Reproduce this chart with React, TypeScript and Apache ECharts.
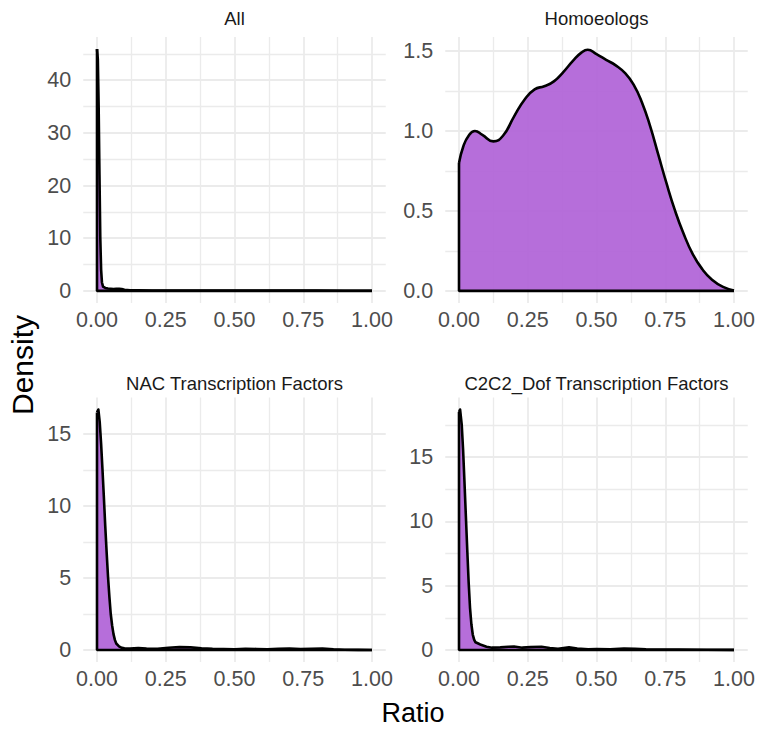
import React, { useEffect, useRef } from "react";
import * as echarts from "echarts";

const panelTitles = ["All", "Homoeologs", "NAC Transcription Factors", "C2C2_Dof Transcription Factors"];
const xTicks = [0, 0.25, 0.5, 0.75, 1];
const xMinor = [0.125, 0.375, 0.625, 0.875];

// Panel 1: All
const allX = [0, 0.003, 0.006, 0.009, 0.012, 0.015, 0.018, 0.022, 0.03, 0.04, 0.05, 0.06, 0.07, 0.08, 0.09, 0.1, 0.12, 0.15, 0.2, 0.3, 0.4, 0.5, 0.6, 0.7, 0.8, 0.9, 1.0];
const allY = [45.9, 44, 35, 22, 10, 4, 1.6, 0.8, 0.55, 0.45, 0.4, 0.35, 0.38, 0.42, 0.35, 0.22, 0.12, 0.09, 0.07, 0.06, 0.08, 0.06, 0.07, 0.05, 0.04, 0.03, 0.02];
const allYTicks = [0, 10, 20, 30, 40];
const allYMinor = [5, 15, 25, 35, 45];
const allYRange = [-2.3, 48.2];

// Panel 2: Homoeologs
const homX = [0, 0.015, 0.035, 0.058, 0.085, 0.125, 0.16, 0.2, 0.24, 0.275, 0.31, 0.345, 0.38, 0.415, 0.445, 0.468, 0.5, 0.535, 0.57, 0.605, 0.635, 0.665, 0.695, 0.725, 0.755, 0.785, 0.815, 0.85, 0.885, 0.92, 0.96, 1.0];
const homY = [0.8, 0.9, 0.97, 1.0, 0.975, 0.935, 0.97, 1.09, 1.2, 1.26, 1.28, 1.31, 1.37, 1.44, 1.49, 1.508, 1.48, 1.445, 1.41, 1.36, 1.29, 1.18, 1.03, 0.85, 0.67, 0.505, 0.365, 0.23, 0.135, 0.07, 0.025, 0.003];
const homYTicks = [0, 0.5, 1.0, 1.5];
const homYMinor = [0.25, 0.75, 1.25];
const homYRange = [-0.0756, 1.5875];

// Panel 3: NAC Transcription Factors
const nacX = [0, 0.005, 0.01, 0.015, 0.02, 0.025, 0.03, 0.035, 0.04, 0.045, 0.05, 0.055, 0.06, 0.065, 0.07, 0.08, 0.09, 0.1, 0.12, 0.15, 0.18, 0.22, 0.26, 0.3, 0.34, 0.38, 0.42, 0.46, 0.5, 0.54, 0.58, 0.62, 0.66, 0.7, 0.74, 0.78, 0.82, 0.86, 0.9, 0.95, 1.0];
const nacY = [16.5, 16.7, 15.8, 14.3, 12.5, 10.6, 8.6, 6.8, 5.1, 3.7, 2.5, 1.7, 1.1, 0.7, 0.45, 0.25, 0.15, 0.12, 0.1, 0.14, 0.1, 0.09, 0.15, 0.2, 0.18, 0.12, 0.08, 0.06, 0.05, 0.09, 0.07, 0.05, 0.08, 0.1, 0.07, 0.08, 0.1, 0.05, 0.02, 0.01, 0.0];
const nacYTicks = [0, 5, 10, 15];
const nacYMinor = [2.5, 7.5, 12.5];
const nacYRange = [-0.835, 17.535];

// Panel 4: C2C2_Dof Transcription Factors
const dofX = [0, 0.004, 0.01, 0.015, 0.02, 0.025, 0.03, 0.035, 0.04, 0.045, 0.05, 0.055, 0.06, 0.07, 0.08, 0.1, 0.12, 0.15, 0.18, 0.2, 0.23, 0.26, 0.3, 0.33, 0.36, 0.4, 0.43, 0.47, 0.5, 0.55, 0.6, 0.64, 0.68, 0.75, 0.8, 0.9, 1.0];
const dofY = [18.5, 18.7, 17.5, 15.5, 13.0, 10.4, 7.8, 5.3, 3.3, 2.0, 1.2, 0.8, 0.6, 0.5, 0.4, 0.25, 0.18, 0.2, 0.25, 0.27, 0.18, 0.22, 0.25, 0.15, 0.1, 0.2, 0.12, 0.06, 0.08, 0.06, 0.12, 0.1, 0.05, 0.04, 0.03, 0.02, 0.01];
const dofYTicks = [0, 5, 10, 15];
const dofYMinor = [2.5, 7.5, 12.5, 17.5];
const dofYRange = [-0.935, 19.635];

const FONT = "'Liberation Sans', Arial, Helvetica, sans-serif";
const FILL = "rgba(178,102,216,0.95)";
const GRID_COLOR = "#ebebeb";

export default function App() {
  const ref = useRef<HTMLDivElement>(null);

  useEffect(() => {
    document.body.style.margin = "0";
    if (!ref.current) return;
    const chart = echarts.init(ref.current, undefined, { renderer: "svg" });

    const panels = [
      { x: allX, y: allY, yt: allYTicks, ym: allYMinor, yr: allYRange, dec: 0, smooth: false },
      { x: homX, y: homY, yt: homYTicks, ym: homYMinor, yr: homYRange, dec: 1, smooth: true },
      { x: nacX, y: nacY, yt: nacYTicks, ym: nacYMinor, yr: nacYRange, dec: 0, smooth: false },
      { x: dofX, y: dofY, yt: dofYTicks, ym: dofYMinor, yr: dofYRange, dec: 0, smooth: false },
    ];
    const lefts = [83.25, 445.25];
    const tops = [37, 397.5];
    const heights = [266, 264.5];
    const pw = 302.5;

    const grids: any[] = [];
    const xAxes: any[] = [];
    const yAxes: any[] = [];
    const series: any[] = [];
    const graphics: any[] = [];

    panels.forEach((p, i) => {
      const col = i % 2;
      const row = Math.floor(i / 2);
      grids.push({
        left: lefts[col],
        top: tops[row],
        width: pw,
        height: heights[row],
        outerBoundsMode: "none",
        containLabel: false,
      });
      xAxes.push({
        type: "value",
        gridIndex: i,
        min: -0.05,
        max: 1.05,
        axisLine: { show: false },
        axisTick: { show: false, customValues: xTicks },
        axisLabel: {
          customValues: xTicks,
          formatter: (v: number) => v.toFixed(2),
          color: "#4d4d4d",
          fontSize: 21.5,
          fontFamily: FONT,
          margin: 6,
        },
        splitLine: { show: true, lineStyle: { color: GRID_COLOR, width: 1.8 } },
      });
      xAxes.push({
        type: "value",
        gridIndex: i,
        min: -0.05,
        max: 1.05,
        axisLine: { show: false },
        axisTick: { show: false, customValues: xMinor },
        axisLabel: { show: false, customValues: xMinor },
        splitLine: { show: true, lineStyle: { color: GRID_COLOR, width: 1.3 } },
      });
      yAxes.push({
        type: "value",
        gridIndex: i,
        min: p.yr[0],
        max: p.yr[1],
        axisLine: { show: false },
        axisTick: { show: false, customValues: p.yt },
        axisLabel: {
          customValues: p.yt,
          formatter: (v: number) => v.toFixed(p.dec),
          color: "#4d4d4d",
          fontSize: 21.5,
          fontFamily: FONT,
          margin: 12,
        },
        splitLine: { show: true, lineStyle: { color: GRID_COLOR, width: 1.8 } },
      });
      yAxes.push({
        type: "value",
        gridIndex: i,
        min: p.yr[0],
        max: p.yr[1],
        axisLine: { show: false },
        axisTick: { show: false, customValues: p.ym },
        axisLabel: { show: false, customValues: p.ym },
        splitLine: { show: true, lineStyle: { color: GRID_COLOR, width: 1.3 } },
      });

      const data = p.x.map((xv, k) => [xv, p.y[k]]);
      series.push({
        type: "line",
        xAxisIndex: i * 2,
        yAxisIndex: i * 2,
        data,
        showSymbol: false,
        symbol: "none",
        smooth: p.smooth ? 0.5 : false,
        lineStyle: { color: "#000", width: 2.6, join: "round" },
        areaStyle: { color: FILL, opacity: 1, origin: 0 },
        silent: true,
        z: 3,
      });
      series.push({
        type: "line",
        xAxisIndex: i * 2,
        yAxisIndex: i * 2,
        data: [[p.x[0], p.y[0]], [0, 0], [1, 0]],
        showSymbol: false,
        symbol: "none",
        lineStyle: { color: "#000", width: 2.6 },
        silent: true,
        z: 4,
      });

      graphics.push({
        type: "text",
        x: lefts[col] + pw / 2,
        y: row === 0 ? 18 : 383,
        style: {
          text: panelTitles[i],
          fill: "#1a1a1a",
          font: `18.5px ${FONT}`,
          textAlign: "center",
          textVerticalAlign: "middle",
        },
      });
    });

    graphics.push({
      type: "text",
      x: 22,
      y: 365,
      rotation: Math.PI / 2,
      style: {
        text: "Density",
        fill: "#000",
        font: `30px ${FONT}`,
        textAlign: "center",
        textVerticalAlign: "middle",
      },
    });
    graphics.push({
      type: "text",
      x: 413,
      y: 713,
      style: {
        text: "Ratio",
        fill: "#000",
        font: `27px ${FONT}`,
        textAlign: "center",
        textVerticalAlign: "middle",
      },
    });

    chart.setOption({
      animation: false,
      backgroundColor: "#ffffff",
      grid: grids,
      xAxis: xAxes,
      yAxis: yAxes,
      series,
      graphic: graphics,
    });

    return () => chart.dispose();
  }, []);

  return <div ref={ref} style={{ width: 762, height: 731 }} />;
}
